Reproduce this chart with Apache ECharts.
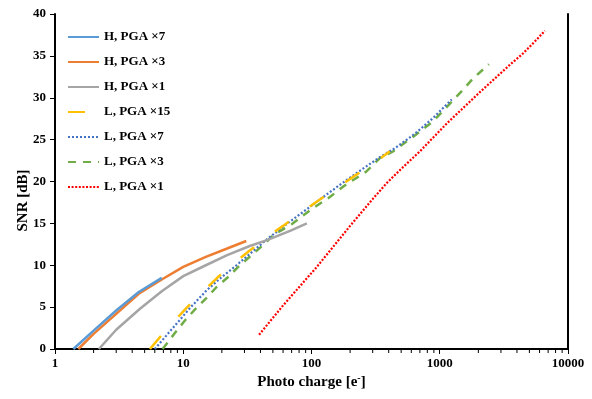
<!DOCTYPE html>
<html><head><meta charset="utf-8">
<script src="https://cdn.jsdelivr.net/npm/echarts@6/dist/echarts.min.js"></script>
<style>html,body{margin:0;padding:0;background:#fff}#c{width:592px;height:399px}</style>
</head><body><div id="c"></div>
<script>
const seriesNames = ['H, PGA ×7','H, PGA ×3','H, PGA ×1','L, PGA ×15','L, PGA ×7','L, PGA ×3','L, PGA ×1'];
const H7 = [[1.39,0],[2,2.2],[3,4.6],[4.5,6.8],[6.8,8.5]];
const H3 = [[1.52,0],[2,1.8],[3,4.2],[4.5,6.6],[6.8,8.3],[10,9.8],[15,11.0],[22,12.0],[31,12.9]];
const H1 = [[2.2,0],[3,2.3],[4.6,4.8],[6.8,6.9],[10,8.7],[15,10.0],[22,11.2],[33,12.3],[45,13.0],[68,14.1],[92,15.0]];
const L15 = [[5.5,0],[7,1.9],[8.6,3.4],[10.6,4.9],[14.8,7.1],[18.4,8.5],[26,10.5],[32.6,11.7],[47.4,13.6],[60,14.7],[88.8,16.6],[114.7,17.8],[171,19.6],[218,20.7],[322,22.4],[408,23.6]];
const L7 = [[6.0,0],[8.4,2.6],[11.3,4.9],[15.2,7.0],[20,8.6],[26,10.0],[45,13.1],[65,15.0],[92,16.7],[130,18.4],[177,19.9],[250,21.5],[341,22.9],[450,24.0],[640,25.7],[890,27.6],[1240,29.8]];
const L3 = [[6.9,0],[8.6,1.9],[10.3,3.4],[12.3,4.7],[15.2,6.1],[18.2,7.4],[22.4,8.6],[27.6,10.0],[34.1,11.2],[43.3,12.6],[50.3,13.6],[70,14.9],[100,16.7],[135,18.0],[177,19.4],[268,21.2],[341,22.8],[433,23.6],[640,25.5],[890,27.2],[1236,29.5],[1506,30.9],[1820,32.3],[2415,34.0]];
const L1 = [[39,1.7],[60,5.2],[110,9.8],[200,14.7],[300,17.9],[385,19.8],[500,21.5],[700,23.6],[1130,26.9],[2000,30.5],[3500,33.9],[4467,35.3],[5500,36.7],[6600,38.0]];
const xMin = 1, xMax = 10000;
const yMin = 0, yMax = 40, yStep = 5;
const xMinorTicks = [2,3,4,5,6,7,8,9,20,30,40,50,60,70,80,90,200,300,400,500,600,700,800,900,2000,3000,4000,5000,6000,7000,8000,9000];

const dataSets = [H7,H3,H1,L15,L7,L3,L1];
const styles = [
  {color:'#5B9BD5', width:2.5, type:'solid'},
  {color:'#ED7D31', width:2.5, type:'solid'},
  {color:'#A5A5A5', width:2.5, type:'solid'},
  {color:'#FFC000', width:2.5, type:[17,26]},
  {color:'#4472C4', width:2.2, type:[2,2]},
  {color:'#70AD47', width:2.5, type:[8,7]},
  {color:'#FF0000', width:2.2, type:[2,1.6]}
];
const font = 'Liberation Serif';
const chart = echarts.init(document.getElementById('c'), null, {renderer:'canvas'});
const lineSeries = dataSets.map((d,i)=>({
  name:seriesNames[i], type:'line', data:d, showSymbol:false, symbol:'none',
  smooth:false, z:10-i,
  itemStyle:{color:styles[i].color},
  lineStyle:{color:styles[i].color, width:styles[i].width, type:styles[i].type}
}));
const minorTickSeries = {
  type:'custom', name:'minorTicks', silent:true, clip:false, z:20,
  data:xMinorTicks.map(v=>[v, yMin]),
  renderItem:function(params, api){
    const p = api.coord([api.value(0), api.value(1)]);
    return {type:'line', shape:{x1:p[0], y1:p[1]+1, x2:p[0], y2:p[1]+4},
      style:{stroke:'#000', lineWidth:1}};
  }
};
chart.setOption({
  animation:false,
  backgroundColor:'#fff',
  grid:{left:55, right:24, top:14, bottom:50, containLabel:false},
  legend:{
    orient:'vertical', left:67, top:30, padding:0,
    itemWidth:31, itemHeight:14, itemGap:11,
    data:seriesNames,
    itemStyle:{opacity:0},
    textStyle:{fontFamily:font, fontWeight:'bold', fontSize:13, color:'#000', lineHeight:14}
  },
  xAxis:{
    type:'log', logBase:10, min:xMin, max:xMax,
    name:'Photo charge [e{sup|-}]', nameLocation:'middle', nameGap:24, nameMoveOverlap:false,
    nameTextStyle:{fontFamily:font, fontWeight:'bold', fontSize:15, color:'#000',
      rich:{sup:{fontFamily:font, fontWeight:'bold', fontSize:10, color:'#000', verticalAlign:'top', padding:[0,0,8,0]}}},
    axisLine:{show:true, lineStyle:{color:'#000', width:2}},
    axisTick:{show:true, length:5, lineStyle:{color:'#000', width:1}},
    axisLabel:{fontFamily:font, fontWeight:'bold', fontSize:13, color:'#000', margin:8,
      formatter:function(v){return String(Math.round(v));}},
    splitLine:{show:false}
  },
  yAxis:[{
    type:'value', min:yMin, max:yMax, interval:yStep,
    name:'SNR [dB]', nameLocation:'middle', nameGap:24, nameMoveOverlap:false,
    nameTextStyle:{fontFamily:font, fontWeight:'bold', fontSize:15, color:'#000', padding:[0,38,0,0]},
    axisLine:{show:true, lineStyle:{color:'#000', width:2}},
    axisTick:{show:true, length:5, lineStyle:{color:'#000', width:1}},
    axisLabel:{fontFamily:font, fontWeight:'bold', fontSize:13, color:'#000', margin:9},
    splitLine:{show:false}
  },{
    type:'value', min:yMin, max:yMax, interval:yStep, position:'right',
    axisLine:{show:true, onZero:false, lineStyle:{color:'#000', width:2}},
    axisTick:{show:false}, axisLabel:{show:false}, splitLine:{show:false}
  }],
  series: lineSeries.concat([minorTickSeries])
});
</script></body></html>
